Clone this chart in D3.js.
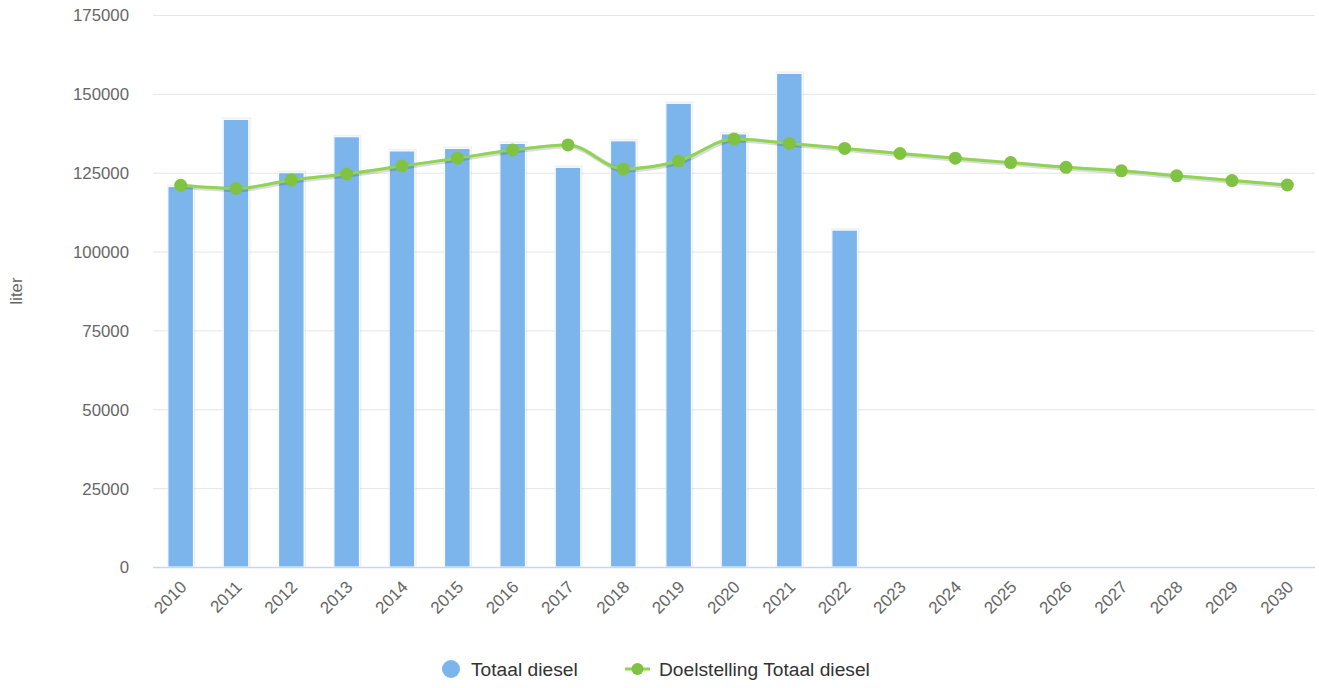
<!DOCTYPE html>
<html>
<head>
<meta charset="utf-8">
<script src="https://cdn.jsdelivr.net/npm/d3@7/dist/d3.min.js"></script>
<style>
  html, body { margin: 0; padding: 0; background: #fff; }
  svg { display: block; font-family: "Liberation Sans", Arial, sans-serif; }
</style>
</head>
<body>
<svg id="chart" width="1319" height="688"></svg>
<script>
const categories = ["2010","2011","2012","2013","2014","2015","2016","2017","2018","2019","2020",
                    "2021","2022","2023","2024","2025","2026","2027","2028","2029","2030"];
const totaalDiesel = [120600, 141900, 125000, 136400, 131900, 132700, 134300, 126700, 135100, 147000, 137300,
                      156500, 106800, null, null, null, null, null, null, null, null];
const doelstelling = [121000, 120000, 122700, 124600, 127100, 129600, 132200, 133800, 126200, 128700, 135700,
                      134300, 132700, 131100, 129600, 128200, 126700, 125600, 124000, 122500, 121100];
const yTicks = [0, 25000, 50000, 75000, 100000, 125000, 150000, 175000];
const seriesNames = ["Totaal diesel", "Doelstelling Totaal diesel"];
const yTitle = "liter";

const svg = d3.select("#chart");
const pLeft = 153, pRight = 1315, pTop = 15, pBottom = 567;

const x = d3.scaleBand().domain(categories).range([pLeft, pRight]).paddingInner(0.54).paddingOuter(0.27);
const xc = d3.scaleBand().domain(categories).range([pLeft, pRight]);
const y = d3.scaleLinear().domain([0, 175000]).range([pBottom, pTop]);

// gridlines
svg.append("g").selectAll("line").data(yTicks.filter(d => d > 0)).join("line")
  .attr("x1", pLeft).attr("x2", pRight)
  .attr("y1", d => y(d) + 0.5).attr("y2", d => y(d) + 0.5)
  .attr("stroke", "#e6e6e6").attr("stroke-width", 1);

// y labels
const yAxis = d3.axisLeft(y).tickValues(yTicks).tickSize(0).tickPadding(0).tickFormat(d3.format("d"));
const ya = svg.append("g").attr("transform", `translate(${pLeft - 24},0)`).call(yAxis);
ya.select(".domain").remove();
ya.selectAll("text").attr("fill", "#666666").attr("font-size", "16.8px")
  .attr("font-family", "Liberation Sans, Arial, sans-serif").attr("dy", "0.35em");

// y title
svg.append("text").attr("transform", "translate(22,291) rotate(-90)")
  .attr("text-anchor", "middle").attr("fill", "#666666").attr("font-size", "16.8px").text(yTitle);

// bars
const barData = categories.map((c, i) => ({c, v: totaalDiesel[i]})).filter(d => d.v != null);
const bars = svg.append("g");
bars.selectAll("rect.sh").data(barData).join("rect").attr("class", "sh")
  .attr("x", d => x(d.c) - 1).attr("y", d => y(d.v) - 2)
  .attr("width", x.bandwidth() + 3).attr("height", d => pBottom - y(d.v) + 2)
  .attr("fill", "#000").attr("opacity", 0.06);
bars.selectAll("rect.b").data(barData).join("rect").attr("class", "b")
  .attr("x", d => x(d.c)).attr("y", d => y(d.v))
  .attr("width", x.bandwidth()).attr("height", d => pBottom - y(d.v))
  .attr("fill", "#7cb5ec").attr("stroke", "#ffffff").attr("stroke-width", 1);

// x axis line
svg.append("line").attr("x1", pLeft).attr("x2", pRight).attr("y1", pBottom + 0.5).attr("y2", pBottom + 0.5)
  .attr("stroke", "#ccd6eb").attr("stroke-width", 1.5);

// x labels
const xAxis = d3.axisBottom(xc).tickSize(0).tickPadding(0);
const xa = svg.append("g").attr("transform", `translate(0,${pBottom})`).call(xAxis);
xa.select(".domain").remove();
xa.selectAll("text").attr("fill", "#666666").attr("font-size", "17px")
  .attr("font-family", "Liberation Sans, Arial, sans-serif")
  .attr("text-anchor", "end").attr("y", 0).attr("dy", 0)
  .attr("transform", "translate(7,21) rotate(-45)");

// line
const pts = categories.map((c, i) => ({c, v: doelstelling[i]}));
const line = d3.line().x(d => xc(d.c) + xc.bandwidth() / 2).y(d => y(d.v)).curve(d3.curveMonotoneX);
svg.append("path").datum(pts).attr("d", line).attr("transform", "translate(1,1)")
  .attr("fill", "none").attr("stroke", "#000").attr("stroke-opacity", 0.14).attr("stroke-width", 5);
svg.append("path").datum(pts).attr("d", line)
  .attr("fill", "none").attr("stroke", "#8fd452").attr("stroke-width", 3);
svg.append("g").selectAll("circle").data(pts).join("circle")
  .attr("cx", d => xc(d.c) + xc.bandwidth() / 2).attr("cy", d => y(d.v)).attr("r", 6.5)
  .attr("fill", "#80c342");

// legend
const lg = svg.append("g");
lg.append("circle").attr("cx", 451).attr("cy", 669).attr("r", 9).attr("fill", "#7cb5ec");
lg.append("text").attr("x", 471).attr("y", 669).attr("dy", "0.35em").attr("font-size", "19.2px")
  .attr("fill", "#333333").text(seriesNames[0]);
lg.append("line").attr("x1", 625).attr("x2", 650).attr("y1", 669).attr("y2", 669)
  .attr("stroke", "#8fd452").attr("stroke-width", 3);
lg.append("circle").attr("cx", 637.5).attr("cy", 669).attr("r", 6).attr("fill", "#80c342");
lg.append("text").attr("x", 659).attr("y", 669).attr("dy", "0.35em").attr("font-size", "19.2px")
  .attr("fill", "#333333").text(seriesNames[1]);
</script>
</body>
</html>
